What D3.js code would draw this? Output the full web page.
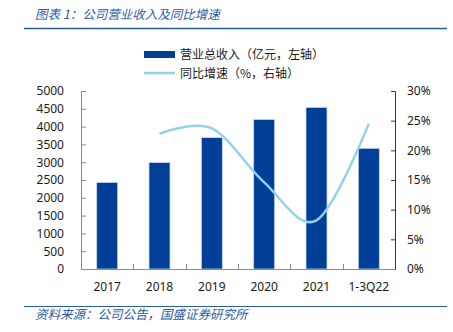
<!DOCTYPE html>
<meta charset="utf-8">
<head>
  <title>公司营业收入及同比增速</title>
  <script src="https://cdn.jsdelivr.net/npm/d3@7"></script>
  <style>
    body { margin: 0; background: #fff; }
    text { font-family: "Noto Sans", "Noto Sans CJK SC", sans-serif; }
    .cjk { font-family: "Noto Sans CJK SC", sans-serif; }
  </style>
</head>
<body>
<div id="chart"></div>
<script>
  // data
  var years = ["2017", "2018", "2019", "2020", "2021", "1-3Q22"];
  var revenue = [2430, 2990, 3690, 4200, 4540, 3390];   // 亿元
  var growth = [null, 22.8, 23.7, 14.6, 8.2, 24.5];     // %
  var leftTicks = [0, 500, 1000, 1500, 2000, 2500, 3000, 3500, 4000, 4500, 5000];
  var rightTicks = [0, 5, 10, 15, 20, 25, 30];

  var w = 453, h = 332;
  var plot = { left: 81, right: 395, top: 91, bottom: 269 };
  var blue = "#003F98", light = "#93D2EA", titleBlue = "#2B5BA8";

  var svg = d3.select("#chart").append("svg")
    .attr("width", w).attr("height", h);

  // header + footer rules
  svg.append("text").attr("class", "cjk")
    .attr("x", 35).attr("y", 19)
    .attr("font-size", 12.5).attr("font-style", "italic")
    .attr("fill", titleBlue)
    .text("图表 1：公司营业收入及同比增速");
  svg.append("line").attr("x1", 24).attr("x2", 447).attr("y1", 28.5).attr("y2", 28.5)
    .attr("stroke", "#2A5CA8").attr("stroke-width", 1.6);
  svg.append("line").attr("x1", 24).attr("x2", 447).attr("y1", 306.5).attr("y2", 306.5)
    .attr("stroke", "#2A5CA8").attr("stroke-width", 1);
  svg.append("text").attr("class", "cjk")
    .attr("x", 35).attr("y", 319)
    .attr("font-size", 12.5).attr("font-style", "italic")
    .attr("fill", titleBlue)
    .text("资料来源：公司公告，国盛证券研究所");

  // scales
  var x = d3.scaleBand().domain(years).range([plot.left, plot.right]).paddingInner(0).paddingOuter(0);
  var yL = d3.scaleLinear().domain([0, 5000]).range([plot.bottom, plot.top]);
  var yR = d3.scaleLinear().domain([0, 30]).range([plot.bottom, plot.top]);

  // bars
  var barW = 21;
  svg.append("g").selectAll("rect")
    .data(years)
    .enter().append("rect")
    .attr("x", (d, i) => x(d) + x.bandwidth() / 2 - barW / 2)
    .attr("y", (d, i) => yL(revenue[i]))
    .attr("width", barW)
    .attr("height", (d, i) => plot.bottom - yL(revenue[i]))
    .attr("fill", blue)
    .attr("stroke", "#C9D6EA").attr("stroke-width", 0.8);

  // growth line, smoothed like the spreadsheet
  var pts = years.map((d, i) => [x(d) + x.bandwidth() / 2, growth[i]]).filter(p => p[1] != null);
  var line = d3.line()
    .x(p => p[0]).y(p => yR(p[1]))
    .curve(d3.curveCardinal.tension(0));
  svg.append("path").datum(pts)
    .attr("d", line)
    .attr("fill", "none").attr("stroke", light).attr("stroke-width", 2.5);

  // left axis
  var axL = svg.append("g").attr("transform", "translate(" + plot.left + ",0)")
    .call(d3.axisRight(yL).tickValues(leftTicks).tickSize(5).tickFormat(d => d));
  axL.select(".domain").attr("stroke", "#8c8c8c");
  axL.selectAll(".tick line").attr("stroke", "#8c8c8c");
  axL.selectAll(".tick text").attr("x", -17).attr("text-anchor", "end")
    .attr("font-size", 12).attr("fill", "#1a1a1a").attr("font-family", "Noto Sans");

  // right axis
  var axR = svg.append("g").attr("transform", "translate(" + plot.right + ",0)")
    .call(d3.axisLeft(yR).tickValues(rightTicks).tickSize(4).tickFormat(d => d + "%"));
  axR.select(".domain").attr("stroke", "#333");
  axR.selectAll(".tick line").attr("stroke", "#333");
  axR.selectAll(".tick text").attr("x", 12).attr("text-anchor", "start")
    .attr("font-size", 12).attr("fill", "#1a1a1a").attr("font-family", "Noto Sans");

  // bottom axis with ticks between categories
  var gx = svg.append("g");
  gx.append("line").attr("x1", plot.left).attr("x2", plot.right)
    .attr("y1", plot.bottom + 0.5).attr("y2", plot.bottom + 0.5).attr("stroke", "#8c8c8c");
  gx.selectAll("line.sep").data(years.slice(1)).enter().append("line")
    .attr("class", "sep")
    .attr("x1", d => Math.round(x(d)) + 0.5).attr("x2", d => Math.round(x(d)) + 0.5)
    .attr("y1", plot.bottom).attr("y2", plot.bottom - 5).attr("stroke", "#8c8c8c");
  gx.selectAll("text").data(years).enter().append("text")
    .attr("x", d => x(d) + x.bandwidth() / 2).attr("y", 291)
    .attr("text-anchor", "middle").attr("font-size", 12).attr("fill", "#1a1a1a")
    .text(d => d);

  // legend
  var lg = svg.append("g").attr("class", "cjk");
  lg.append("rect").attr("x", 144).attr("y", 51).attr("width", 31).attr("height", 7).attr("fill", blue);
  lg.append("text").attr("x", 180).attr("y", 59).attr("font-size", 12).attr("fill", "#1a1a1a")
    .attr("class", "cjk").text("营业总收入（亿元，左轴）");
  lg.append("line").attr("x1", 144).attr("x2", 175).attr("y1", 73).attr("y2", 73)
    .attr("stroke", light).attr("stroke-width", 2.5);
  lg.append("text").attr("x", 180).attr("y", 78).attr("font-size", 12).attr("fill", "#1a1a1a")
    .attr("class", "cjk").text("同比增速（%，右轴）");
</script>
</body>
